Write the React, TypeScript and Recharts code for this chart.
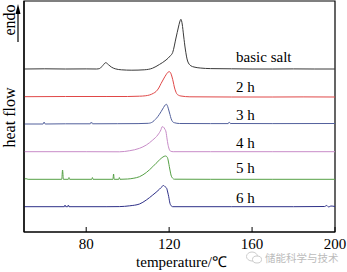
import { LineChart, Line, XAxis, YAxis, ReferenceArea, ReferenceDot } from 'recharts';

type Pt = [number, number];

// DSC curves, temperature (°C) vs heat flow (arb. units, already offset for stacking)
const basicSalt: Pt[] = [
  [50, 16.3], [60, 16.32], [70, 16.3], [80, 16.31], [85, 16.3], [86.5, 16.35], [88, 16.65],
  [89.4, 16.93], [90.8, 16.72], [92.1, 16.5], [94, 16.32], [97, 16.22], [102, 16.18], [108, 16.22],
  [112, 16.38], [115.3, 16.75], [118.5, 17.2], [120.5, 17.6], [121.7, 17.95], [123.3, 19.4],
  [124.5, 20.5], [125.1, 21.0], [125.7, 21.27], [126.3, 20.8], [127, 19.6], [127.8, 18.3],
  [128.9, 17.1], [130.5, 16.62], [132, 16.5], [135, 16.4], [140, 16.34], [150, 16.32],
  [160, 16.3], [170, 16.3], [180, 16.31], [190, 16.3], [200, 16.3],
];

const h2: Pt[] = [
  [50, 13.53], [70, 13.55], [90, 13.55], [100, 13.55], [105.7, 13.58], [108.5, 13.62], [110.5, 13.7],
  [112.5, 13.88], [113.7, 14.05], [115, 14.4], [116.1, 14.85], [117.3, 15.3], [118.5, 15.72],
  [119.4, 15.97], [120.1, 16.03], [120.8, 15.88], [121.4, 15.5], [122, 15.0], [122.5, 14.5],
  [123.1, 14.1], [123.6, 13.85], [124.5, 13.68], [125.7, 13.6], [130, 13.52], [150, 13.5],
  [170, 13.5], [185, 13.51], [200, 13.5],
];

const h3: Pt[] = [
  [50, 10.8], [59.2, 10.8], [59.7, 11.0], [60.2, 10.8], [70, 10.82], [82, 10.82], [82.5, 11.0],
  [83, 10.82], [95, 10.83], [105, 10.84], [110, 10.87], [112.1, 11.02], [113.3, 11.25],
  [114.5, 11.53], [116.1, 12.03], [117.3, 12.45], [118.2, 12.72], [118.7, 12.77], [119.3, 12.55],
  [119.8, 12.2], [120.4, 11.75], [120.9, 11.37], [121.6, 11.05], [122.5, 10.93], [125, 10.85],
  [140, 10.84], [148.5, 10.84], [149, 11.0], [149.5, 10.85], [170, 10.84], [200, 10.85],
];

const h4: Pt[] = [
  [50, 8.03], [80, 8.03], [96, 8.02], [101, 8.13], [105.7, 8.37], [109, 8.7], [112.1, 9.2],
  [114.5, 9.7], [116.1, 10.25], [116.6, 10.53], [117.2, 10.5], [117.9, 10.3], [118.5, 10.0],
  [119, 9.3], [119.4, 8.8], [120, 8.3], [120.7, 8.08], [122, 8.03], [140, 8.03], [170, 8.03],
  [200, 8.03],
];

const h5: Pt[] = [
  [50, 5.27], [51, 5.33], [52, 5.27], [68.2, 5.27], [68.6, 6.2], [69, 5.27], [71.4, 5.27],
  [71.7, 5.45], [72, 5.27], [82.7, 5.27], [83, 5.45], [83.3, 5.27], [92.9, 5.27], [93.2, 5.8],
  [93.5, 5.27], [95.7, 5.27], [96, 5.45], [96.3, 5.27], [100, 5.3], [103, 5.38], [105.7, 5.53],
  [109, 5.95], [112.1, 6.53], [115.3, 7.2], [117, 7.5], [118.2, 7.6], [118.8, 7.55], [119.3, 7.37],
  [119.7, 7.0], [120.1, 6.53], [120.5, 6.1], [120.9, 5.7], [121.6, 5.4], [122.5, 5.28],
  [140, 5.27], [170, 5.27], [200, 5.27],
];

const h6: Pt[] = [
  [50, 2.53], [69.5, 2.53], [69.8, 2.7], [70.1, 2.53], [71.1, 2.53], [71.4, 2.7], [71.7, 2.53],
  [90, 2.53], [96, 2.54], [101, 2.62], [105.7, 2.8], [109, 3.2], [112.1, 3.7], [115.3, 4.27],
  [116.6, 4.55], [117.3, 4.65], [117.9, 4.55], [118.8, 4.37], [119.3, 4.0], [119.8, 3.53],
  [120.4, 2.87], [121, 2.62], [121.7, 2.53], [150, 2.53], [180, 2.53], [195, 2.55], [196, 2.65],
  [197, 2.5], [198, 2.6], [200, 2.55],
];

const sampleNames = ['basic salt', '2 h', '3 h', '4 h', '5 h', '6 h'];
const sampleCurves = [basicSalt, h2, h3, h4, h5, h6];
const xTicks = [80, 120, 160, 200];

// styling
const colors = ['#3a3a3a', '#e04848', '#52609c', '#c88cc8', '#55a045', '#2e3088'];
const labelDy = [-7, -5, -4, -3.5, -6, -3.5];
const LABEL_T = 152.3;
const FONT = '"Liberation Serif", "Times New Roman", serif';

const series = sampleNames.map((name, i) => ({
  name,
  color: colors[i],
  data: sampleCurves[i].map(([t, hf]) => ({ t, hf })),
}));

function YTitle(props: any) {
  const { viewBox } = props;
  const bx = viewBox.x + 14.5;
  const midY = viewBox.y + viewBox.height / 2 + 1;
  const endoY = viewBox.y + 19;
  return (
    <g fontFamily={FONT} fontSize={16} fill='#000'>
      <text x={bx} y={midY} textAnchor='middle' transform={`rotate(-90 ${bx} ${midY})`}>heat flow</text>
      <text x={bx} y={endoY} textAnchor='middle' transform={`rotate(-90 ${bx} ${endoY})`}>endo</text>
      <line x1={viewBox.x + 18} y1={viewBox.y + 41} x2={viewBox.x + 18} y2={viewBox.y + 10} stroke='#000' strokeWidth={1.2} />
      <path d={`M${viewBox.x + 15.5} ${viewBox.y + 13} L${viewBox.x + 18} ${viewBox.y + 3} L${viewBox.x + 20.5} ${viewBox.y + 13} Z`} fill='#000' />
    </g>
  );
}

function XTitle(props: any) {
  const { viewBox } = props;
  return (
    <text x={viewBox.x + viewBox.width / 2 + 2} y={viewBox.y + 35} textAnchor='middle' fontFamily={FONT} fontSize={15} fill='#000'>
      temperature/℃
    </text>
  );
}

export default function App() {
  return (
    <div style={{ position: 'absolute', left: 0, top: 0, width: 347, height: 272, background: '#fff' }}>
      <LineChart width={347} height={272} margin={{ top: 1, right: 12, left: 0, bottom: 0 }}>
        <XAxis
          type='number'
          dataKey='t'
          domain={[50, 200]}
          ticks={xTicks}
          allowDataOverflow
          height={40}
          tickSize={-5}
          tickMargin={11}
          tick={{ fontSize: 15, fill: '#000', fontFamily: FONT }}
          tickLine={{ stroke: '#000', strokeWidth: 1 }}
          axisLine={{ stroke: '#000', strokeWidth: 1.2 }}
          label={{ content: XTitle }}
        />
        <YAxis
          type='number'
          domain={[0, 23.1]}
          allowDataOverflow
          width={24}
          tick={false}
          tickLine={false}
          axisLine={{ stroke: '#000', strokeWidth: 1.2 }}
          label={{ content: YTitle }}
        />
        <ReferenceArea x1={50} x2={200} y1={0} y2={23.1} fill='none' stroke='#000' strokeWidth={1.2} ifOverflow='visible' />
        {series.map((s) => (
          <Line
            key={s.name}
            data={s.data}
            dataKey='hf'
            type='monotone'
            stroke={s.color}
            strokeWidth={1}
            dot={false}
            activeDot={false}
            isAnimationActive={false}
          />
        ))}
        {series.map((s, i) => {
          const base = s.data.reduce((a, b) => (Math.abs(b.t - LABEL_T) < Math.abs(a.t - LABEL_T) ? b : a));
          return (
            <ReferenceDot
              key={`lbl-${s.name}`}
              x={LABEL_T}
              y={base.hf}
              r={0}
              stroke='none'
              fill='none'
              label={{
                content: (p: any) => (
                  <text x={p.viewBox.x} y={p.viewBox.y + labelDy[i]} fontFamily={FONT} fontSize={15} fill='#000'>
                    {s.name}
                  </text>
                ),
              }}
            />
          );
        })}
      </LineChart>
      <div style={{ position: 'absolute', left: 246, top: 251, display: 'flex', alignItems: 'center', gap: 3, color: '#bcbcbc', fontSize: 10.5, lineHeight: '13px', fontFamily: '"Noto Sans CJK SC", sans-serif' }}>
        <svg width={16} height={13}>
          <ellipse cx={6} cy={5.5} rx={5.5} ry={4.5} fill='none' stroke='#cccccc' strokeWidth={1} />
          <ellipse cx={11} cy={8.5} rx={4.5} ry={3.5} fill='#fff' stroke='#cccccc' strokeWidth={1} />
        </svg>
        <span>储能科学与技术</span>
      </div>
    </div>
  );
}
